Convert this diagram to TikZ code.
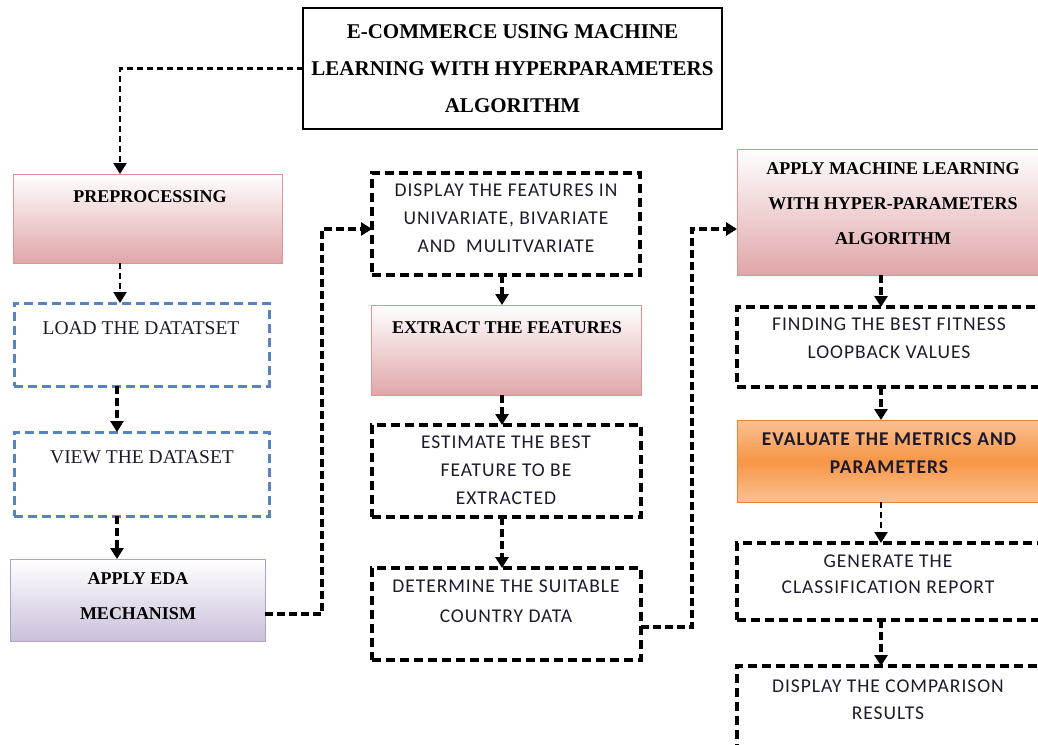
\documentclass[tikz,border=0pt]{standalone}
\usepackage{fontspec}
\setmainfont{Liberation Serif}
\newfontfamily\calib[LetterSpace=5]{Carlito}
\usetikzlibrary{arrows.meta}
\definecolor{pinkB}{HTML}{D99594}
\definecolor{pinkF}{HTML}{E0A6A9}
\definecolor{lavB}{HTML}{B2A1C7}
\definecolor{lavF}{HTML}{CBBFDA}
\definecolor{orgB}{HTML}{E8843A}
\definecolor{orgT}{HTML}{FAC092}
\definecolor{orgM}{HTML}{F79646}
\definecolor{blueD}{HTML}{5683C4}
\definecolor{txt}{HTML}{1E1A2C}
\begin{document}
\begin{tikzpicture}[x=1pt,y=-1pt,
  every node/.style={inner sep=0pt, outer sep=0pt},
  blk/.style={draw=black, line width=3.2pt, dash pattern=on 9pt off 5pt},
  blu/.style={draw=blueD, line width=3pt, dash pattern=on 9pt off 5pt},
  pnk/.style={draw=pinkB, line width=1pt, top color=white, bottom color=pinkF},
  lav/.style={draw=lavB, line width=1pt, top color=white, bottom color=lavF},
  org/.style={draw=orgB, line width=1pt, top color=orgT, bottom color=orgT, middle color=orgM},
  plainbox/.style={draw=black, line width=1.4pt, fill=white},
  conn/.style={line width=3.4pt, dash pattern=on 8pt off 4pt, -{Triangle[length=11pt,width=13pt]}},
  thinconn/.style={conn, line width=2.2pt, dash pattern=on 6pt off 4pt},
  sbf/.style={font=\fontsize{18}{35}\selectfont\bfseries, align=center, text=black},
  srm/.style={font=\fontsize{19.5}{30}\selectfont, align=center, text=txt},
  sans/.style={font=\calib\fontsize{19.5}{28}\selectfont, align=center, text=txt},
  sansb/.style={font=\calib\fontsize{19.5}{28}\selectfont\bfseries, align=center, text=txt},
]
\useasboundingbox (0,0) rectangle (1038,744);
\begin{scope}
\clip (0,0) rectangle (1038,744);
% column x coordinates
\coordinate (ca) at (120,0);
\coordinate (cb) at (117,0);
\coordinate (cm) at (502,0);
\coordinate (cr) at (881,0);
\coordinate (k1) at (322,0);
\coordinate (k2) at (692,0);
\coordinate (ye) at (0,614);
\coordinate (yd) at (0,627);
\coordinate (yt) at (0,229);

% title
\node[plainbox, minimum width=419pt, minimum height=121pt,
      font=\fontsize{21}{37}\selectfont\bfseries, align=center] (title) at (512.5,68.5)
  {E-COMMERCE USING MACHINE\\LEARNING WITH HYPERPARAMETERS\\ALGORITHM};

% left column
\node[pnk, minimum width=269pt, minimum height=89pt] (pre) at (147.5,218.5) {};
\node[sbf] (pret) at (150,197) {PREPROCESSING};
\node[blu, minimum width=255pt, minimum height=83pt] (load) at (141.5,344.5) {};
\node[srm] (loadt) at (141,328) {LOAD THE DATATSET};
\node[blu, minimum width=255pt, minimum height=84pt] (view) at (141.5,474) {};
\node[srm] (viewt) at (142,457) {VIEW THE DATASET};
\node[lav, minimum width=255pt, minimum height=82pt] (eda) at (137.5,600) {};
\node[sbf] (edat) at (138,596.5) {APPLY EDA\\MECHANISM};

% middle column
\node[blk, minimum width=268pt, minimum height=102pt] (disp) at (506,224) {};
\node[sans] (dispt) at (506,218.5) {DISPLAY THE FEATURES IN\\UNIVARIATE, BIVARIATE\\AND\ \ MULITVARIATE};
\node[pnk, minimum width=270pt, minimum height=90pt] (extr) at (506,350) {};
\node[sbf] (extrt) at (507,328) {EXTRACT THE FEATURES};
\node[blk, minimum width=269pt, minimum height=92pt] (est) at (506.5,471) {};
\node[sans] (estt) at (506,470.5) {ESTIMATE THE BEST\\FEATURE TO BE\\EXTRACTED};
\node[blk, minimum width=269pt, minimum height=92pt] (det) at (506.5,614) {};
\node[sans, font=\calib\fontsize{19.5}{30}\selectfont] (dett) at (506,601) {DETERMINE THE SUITABLE\\COUNTRY DATA};

% right column
\node[pnk, minimum width=305pt, minimum height=126pt] (ml) at (889.5,212) {};
\node[sbf] (mlt) at (893,204) {APPLY MACHINE LEARNING\\WITH HYPER-PARAMETERS\\ALGORITHM};
\node[blk, minimum width=305pt, minimum height=80pt] (find) at (889.5,347) {};
\node[sans] (findt) at (889,338.5) {FINDING THE BEST FITNESS\\LOOPBACK VALUES};
\node[org, minimum width=305pt, minimum height=82pt] (eval) at (889.5,461) {};
\node[sansb] (evalt) at (889,453) {EVALUATE THE METRICS AND\\PARAMETERS};
\node[blk, minimum width=305pt, minimum height=77pt] (gen) at (889.5,581.5) {};
\node[sans, font=\calib\fontsize{19.5}{26}\selectfont] (gent) at (888,574) {GENERATE THE\\CLASSIFICATION REPORT};
\node[blk, minimum width=305pt, minimum height=96pt] (cmp) at (889.5,714) {};
\node[sans, font=\calib\fontsize{19.5}{27}\selectfont] (cmpt) at (888,699.5) {DISPLAY THE COMPARISON\\RESULTS};

% connectors
\draw[thinconn] (title.west) -- (title.west -| ca) -- (pre.north -| ca);
\draw[thinconn] (pre.south -| ca) -- (load.north -| ca);
\draw[conn, line width=4.5pt] (load.south -| cb) -- (view.north -| cb);
\draw[conn, line width=4.5pt] (view.south -| cb) -- (eda.north -| cb);
\draw[conn] (ye -| eda.east) -- (ye -| k1) -- (k1 |- yt) -- (yt -| disp.west);
\draw[conn] (disp.south -| cm) -- (extr.north -| cm);
\draw[conn] (extr.south -| cm) -- (est.north -| cm);
\draw[conn] (est.south -| cm) -- (det.north -| cm);
\draw[conn] (yd -| det.east) -- (yd -| k2) -- (k2 |- yt) -- (yt -| ml.west);
\draw[conn] (ml.south -| cr) -- (find.north -| cr);
\draw[conn] (find.south -| cr) -- (eval.north -| cr);
\draw[thinconn] (eval.south -| cr) -- (gen.north -| cr);
\draw[conn] (gen.south -| cr) -- (cmp.north -| cr);
\end{scope}
\end{tikzpicture}
\end{document}
